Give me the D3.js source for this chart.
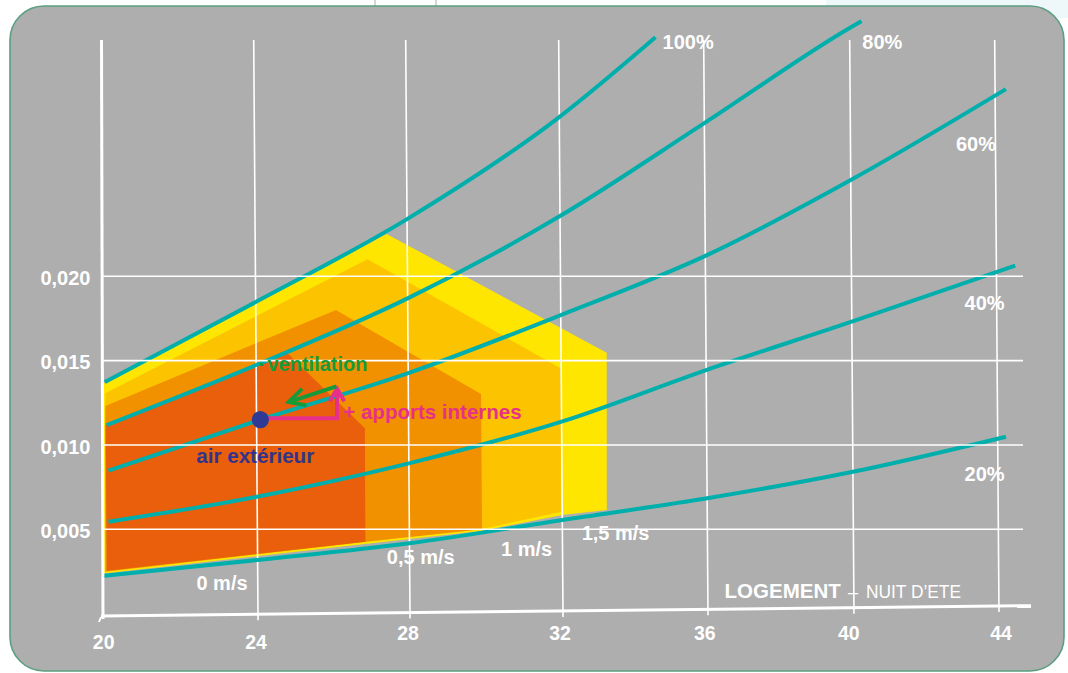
<!DOCTYPE html>
<html><head><meta charset="utf-8">
<script src="https://cdn.jsdelivr.net/npm/d3@7"></script>
<style>
body{margin:0;background:#fff}
svg{display:block}
text{font-family:"Liberation Sans",Arial,Helvetica,sans-serif}
</style>
</head><body>
<svg id="chart" width="1068" height="673"></svg>
<script>
// ---------- data ----------
const tempTicks = [20, 24, 28, 32, 36, 40, 44];
const humidTicks = [0.005, 0.010, 0.015, 0.020];
const humidLabels = ["0,005", "0,010", "0,015", "0,020"];

// relative humidity curves: [temperature °C, humidity kg/kg]
const rh100 = [[20.09,0.01373],[24,0.01847],[28,0.02339],[32,0.02944],[34.67,0.03417]];
const rh80  = [[20.13,0.01118],[24,0.01474],[28,0.01869],[32,0.02357],[36,0.02908],[40,0.03472],[40.33,0.03513]];
const rh60  = [[20.17,0.00847],[24,0.01142],[28,0.01426],[32,0.01770],[36,0.02121],[40,0.02571],[44.30,0.03110]];
const rh40  = [[20.16,0.00545],[24,0.00693],[28,0.00891],[32,0.01138],[36,0.01444],[40,0.01731],[44.52,0.02063]];
const rh20  = [[19.97,0.00223],[24,0.00318],[28,0.00417],[32,0.00555],[36,0.00684],[40,0.00841],[44.23,0.01049]];
const rhNames = ["100%", "80%", "60%", "40%", "20%"];

// comfort zones by air speed (house shapes)
const zone15 = [[20.05,0.01365],[27.46,0.02251],[33.26,0.01547],[33.23,0.00614],[32.0,0.00584],[29.87,0.00490],[26.83,0.00413],[20.02,0.00238]];
const zone10 = [[20.10,0.01306],[26.95,0.02101],[32.0,0.01454],[31.98,0.00604],[29.87,0.00500],[26.83,0.00425],[20.07,0.00247]];
const zone05 = [[20.10,0.01231],[26.11,0.01800],[29.9,0.01302],[29.9,0.00500],[26.83,0.00426],[20.07,0.00250]];
const zone00 = [[20.10,0.01118],[24.82,0.01545],[26.85,0.01099],[26.84,0.00426],[20.11,0.00254]];
const speedLabels = ["0 m/s", "0,5 m/s", "1 m/s", "1,5 m/s"];

const outsideAir = [24.1, 0.0115];

// ---------- setup ----------
const svg = d3.select("#chart");
const x = d3.scaleLinear().domain(tempTicks).range([103, 258, 410, 563, 708, 854, 999]);
const y = d3.scaleLinear().domain([0, 0.020]).range([613.6, 276.3]);

const GREY = "#aeaeae", TEAL = "#00afab", WHITE = "#ffffff";

// page background bits
svg.append("rect").attr("x", 826).attr("y", 0).attr("width", 242).attr("height", 18).attr("fill", "#eef7fa");
svg.append("line").attr("x1", 375).attr("x2", 375).attr("y1", 0).attr("y2", 6).attr("stroke", "#d6d6d6").attr("stroke-width", 2);
svg.append("line").attr("x1", 436).attr("x2", 436).attr("y1", 0).attr("y2", 6).attr("stroke", "#d6d6d6").attr("stroke-width", 2);

// panel
svg.append("rect").attr("x", 10).attr("y", 6).attr("width", 1054).attr("height", 665)
  .attr("rx", 34).attr("ry", 34).attr("fill", GREY).attr("stroke", "#5b9e80").attr("stroke-width", 1.6);

// slight perspective skew of the plot area
const plot = svg.append("g").attr("transform", "matrix(1,0,0.0075,1,-4.61,0)");

// comfort zones
const poly = d3.line().x(d => x(d[0])).y(d => y(d[1]));
const zones = [
  {pts: zone15, fill: "#ffe600"},
  {pts: zone10, fill: "#fcc400"},
  {pts: zone05, fill: "#f29100"},
  {pts: zone00, fill: "#e95f0b"}
];
plot.selectAll("path.zone").data(zones).join("path").attr("class", "zone")
  .attr("d", d => poly(d.pts) + "Z").attr("fill", d => d.fill);

// vertical grid lines
plot.selectAll("line.vg").data(tempTicks.slice(1)).join("line").attr("class", "vg")
  .attr("x1", d => x(d)).attr("x2", d => x(d))
  .attr("y1", 40).attr("y2", d => 616 - (x(d) - 101) * 10.3 / 930 + 6)
  .attr("stroke", WHITE).attr("stroke-width", 1.6);

// horizontal grid lines (unskewed)
svg.selectAll("line.hg").data(humidTicks).join("line").attr("class", "hg")
  .attr("x1", 102).attr("x2", 1023).attr("y1", d => y(d)).attr("y2", d => y(d))
  .attr("stroke", WHITE).attr("stroke-width", 1.6);

// humidity curves
const curve = d3.line().x(d => x(d[0])).y(d => y(d[1])).curve(d3.curveMonotoneX);
const curves = [rh100, rh80, rh60, rh40, rh20];
plot.selectAll("path.rh").data(curves).join("path").attr("class", "rh")
  .attr("d", d => curve(d)).attr("fill", "none").attr("stroke", TEAL).attr("stroke-width", 4);

// axes
svg.append("line").attr("x1", 101.5).attr("y1", 40).attr("x2", 103).attr("y2", 619)
  .attr("stroke", WHITE).attr("stroke-width", 3);
svg.append("line").attr("x1", 101).attr("y1", 616).attr("x2", 1031).attr("y2", 605.7)
  .attr("stroke", WHITE).attr("stroke-width", 3);
svg.append("path").attr("d", "M101,617 L99,622").attr("stroke", WHITE).attr("stroke-width", 2);

// tick labels
const xLab = [[103.7,649],[256,649],[408,640],[560,640],[704.8,640],[848.8,640],[1001,640]];
svg.selectAll("text.xt").data(tempTicks).join("text").attr("class", "xt")
  .attr("x", (d, i) => xLab[i][0]).attr("y", (d, i) => xLab[i][1])
  .attr("text-anchor", "middle").attr("font-size", 19.5).attr("font-weight", "bold").attr("fill", WHITE)
  .text(d => d);
svg.selectAll("text.yt").data(humidTicks).join("text").attr("class", "yt")
  .attr("x", 90.5).attr("y", d => y(d) + 8.8)
  .attr("text-anchor", "end").attr("font-size", 20).attr("font-weight", "bold").attr("fill", WHITE)
  .text((d, i) => humidLabels[i]);

// RH labels
const rhPos = [[662.6,49],[862.3,49],[956,150.7],[964.6,310],[964.6,480.7]];
svg.selectAll("text.rhl").data(rhNames).join("text").attr("class", "rhl")
  .attr("x", (d, i) => rhPos[i][0]).attr("y", (d, i) => rhPos[i][1])
  .attr("font-size", 20).attr("font-weight", "bold").attr("fill", WHITE).text(d => d);

// speed labels
const spPos = [[222,590],[420.7,564],[526.6,556.3],[615.6,539.5]];
svg.selectAll("text.sp").data(speedLabels).join("text").attr("class", "sp")
  .attr("x", (d, i) => spPos[i][0]).attr("y", (d, i) => spPos[i][1])
  .attr("text-anchor", "middle").attr("font-size", 20).attr("font-weight", "bold").attr("fill", WHITE).text(d => d);

// outside air point & arrows
const dx = x(outsideAir[0]) + 0.0075 * (y(outsideAir[1]) - 615);
const dy = y(outsideAir[1]);
svg.append("path")
  .attr("d", `M${dx},${dy - 1.5} L${dx + 76.7},${dy - 1.5} L${dx + 76.7},${dy - 30}`)
  .attr("fill", "none").attr("stroke", "#e6308a").attr("stroke-width", 4);
svg.append("path")
  .attr("d", `M${dx + 69.5},${dy - 18.5} L${dx + 76.7},${dy - 31} L${dx + 84},${dy - 18.5}`)
  .attr("fill", "none").attr("stroke", "#e6308a").attr("stroke-width", 4).attr("stroke-linejoin", "miter");
svg.append("path")
  .attr("d", `M${dx + 76},${dy - 33.3} L${dx + 29},${dy - 17.8}`)
  .attr("fill", "none").attr("stroke", "#169b3a").attr("stroke-width", 3.8);
svg.append("path")
  .attr("d", `M${dx + 41.7},${dy - 30.7} L${dx + 28.3},${dy - 17.7} L${dx + 46},${dy - 14.3}`)
  .attr("fill", "none").attr("stroke", "#169b3a").attr("stroke-width", 3.8).attr("stroke-linejoin", "miter");
svg.append("circle").attr("cx", dx).attr("cy", dy).attr("r", 8.6).attr("fill", "#2f3a94");

// annotations
const vt = svg.append("text").attr("y", 370.5).attr("font-size", 20).attr("font-weight", "bold").attr("fill", "#169b3a");
vt.append("tspan").attr("x", 258.7).text("·");
vt.append("tspan").attr("x", 267.5).text("ventilation");
svg.append("text").attr("x", 343.3).attr("y", 419.3).attr("font-size", 20.5).attr("font-weight", "bold")
  .attr("fill", "#e6308a").text("+ apports internes");
svg.append("text").attr("x", 196.3).attr("y", 462.7).attr("font-size", 20.6).attr("font-weight", "bold")
  .attr("fill", "#31348c").text("air extérieur");

// title
svg.append("text").attr("x", 724.6).attr("y", 598.3).attr("font-size", 20.5).attr("font-weight", "bold")
  .attr("fill", WHITE).text("LOGEMENT");
svg.append("text").attr("x", 848).attr("y", 598.3).attr("font-size", 18).attr("fill", WHITE).text("–");
svg.append("text").attr("x", 866).attr("y", 598.3).attr("font-size", 19).attr("fill", WHITE)
  .attr("textLength", 95).attr("lengthAdjust", "spacingAndGlyphs").text("NUIT D’ETE");
</script>
</body></html>
